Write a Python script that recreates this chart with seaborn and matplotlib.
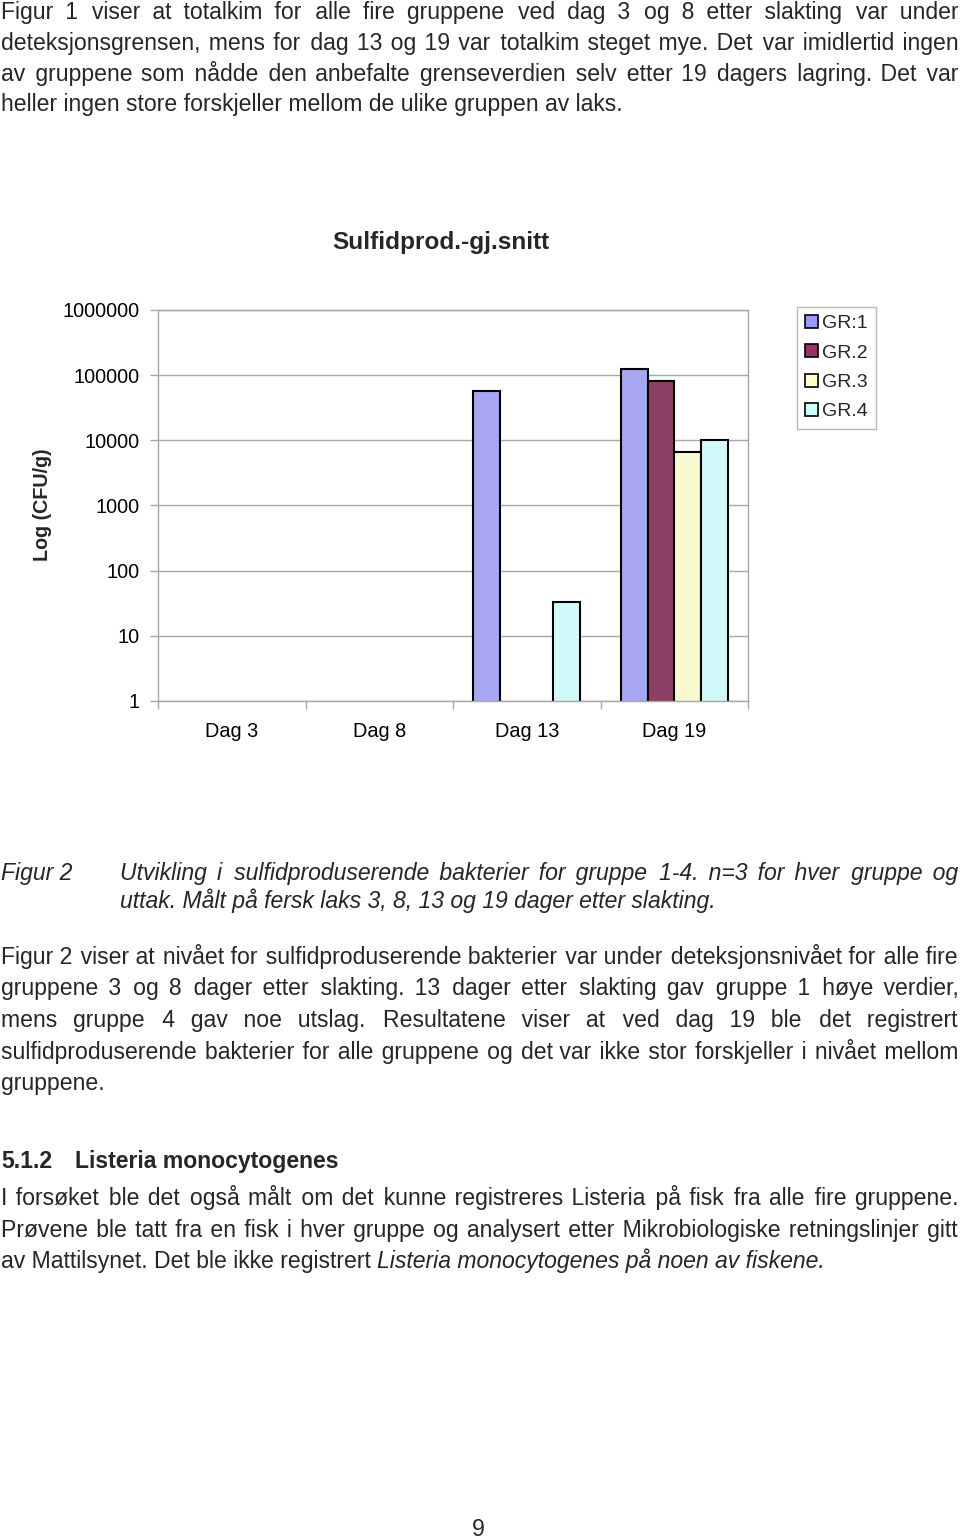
import numpy as np
import pandas as pd
import matplotlib
matplotlib.use("Agg")
import matplotlib.pyplot as plt
import seaborn as sns
from matplotlib.patches import Patch
from matplotlib.ticker import FixedLocator, NullLocator

# ---------------- data ----------------
days = ["Dag 3", "Dag 8", "Dag 13", "Dag 19"]
groups = ["GR:1", "GR.2", "GR.3", "GR.4"]
gr1 = [np.nan, np.nan, 58000, 123000]
gr2 = [np.nan, np.nan, np.nan, 81000]
gr3 = [np.nan, np.nan, np.nan, 6700]
gr4 = [np.nan, np.nan, 33, 10200]
colors = ["#9999FF", "#993366", "#FFFFCC", "#CCFFFF"]
ytick_vals = [1, 10, 100, 1000, 10000, 100000, 1000000]
ytick_labels = ["1", "10", "100", "1000", "10000", "100000", "1000000"]

rows = []
for g, vals in zip(groups, [gr1, gr2, gr3, gr4]):
    for d, v in zip(days, vals):
        rows.append({"day": d, "group": g, "value": v})
df = pd.DataFrame(rows)

# ---------------- figure ----------------
W, H = 960, 1539
sns.set_theme(style="white")
plt.rcParams["font.family"] = ["Liberation Sans", "DejaVu Sans"]
fig = plt.figure(figsize=(W / 100, H / 100), dpi=100)
fig.patch.set_facecolor("white")


def fx(x):
    return x / W


def fy(y):
    return 1 - y / H


ax = fig.add_axes([fx(158), fy(701), 590 / W, 391 / H])
ax.set_yscale("log")
sns.barplot(data=df, x="day", y="value", hue="group", order=days,
            hue_order=groups, palette=colors, width=0.725, gap=0,
            edgecolor="black", linewidth=1.5, errorbar=None, legend=False,
            ax=ax)
ax.set_ylim(1, 1e6)
ax.set_xlim(-0.5, 3.5)
ax.set_xlabel("")
ax.set_ylabel("")

gridc = "#A6A6A6"
TFS = 14.3
ax.yaxis.set_major_locator(FixedLocator(ytick_vals))
ax.set_yticklabels(ytick_labels)
ax.yaxis.set_minor_locator(NullLocator())
ax.grid(axis="y", color=gridc, linewidth=1.0)
ax.set_axisbelow(True)
for s in ax.spines.values():
    s.set_color(gridc)
    s.set_linewidth(1.0)
    s.set_visible(True)
ax.tick_params(axis="y", which="major", length=6, width=1, color=gridc,
               direction="out", pad=7, labelsize=TFS, labelcolor="black",
               left=True)
ax.set_xticks(range(len(days)))
ax.set_xticklabels(days)
ax.tick_params(axis="x", which="major", length=0, pad=15, labelsize=TFS,
               labelcolor="black")
ax.set_xticks([-0.5, 0.5, 1.5, 2.5, 3.5], minor=True)
ax.tick_params(axis="x", which="minor", length=6, width=1, color=gridc,
               direction="out", bottom=True)

fig.text(fx(441), fy(242), "Sulfidprod.-gj.snitt", fontsize=17.6,
         fontweight="bold", ha="center", va="center")
fig.text(fx(43), fy(505), "Log (CFU/g)", fontsize=14.2, fontweight="bold",
         rotation=90, ha="center", va="center")

handles = [Patch(facecolor=c, edgecolor="black", linewidth=1.2) for c in colors]
leg = fig.legend(handles, groups, loc="upper left",
                 bbox_to_anchor=(fx(797), fy(307)), borderaxespad=0,
                 frameon=True, fancybox=False, fontsize=14.0,
                 handlelength=0.64, handleheight=0.64, handletextpad=0.25,
                 labelspacing=0.62, borderpad=0.42)
leg.get_frame().set_edgecolor(gridc)
leg.get_frame().set_linewidth(1.0)

# ---------------- page text ----------------
renderer = fig.canvas.get_renderer()
FS = 16.6
HAIR = "\u200a"


def width_of(s, fs=FS, **kw):
    t = fig.text(0, 0, s, fontsize=fs, **kw)
    w = t.get_window_extent(renderer).width
    t.remove()
    return w


def line(x, y, s, fs=FS, **kw):
    fig.text(fx(x), fy(y), s, fontsize=fs, ha="left", va="baseline", **kw)


def build(words, counts):
    out = words[0]
    for c, w in zip(counts, words[1:]):
        out += " " + HAIR * c + w
    return out


def justified(x0, x1, y, s, **kw):
    words = s.split(" ")
    n = len(words) - 1
    target = x1 - x0
    fs = FS
    while True:
        natural = width_of(s, fs=fs, **kw)
        if natural <= target or fs < 14:
            break
        fs -= 0.1
    hair = width_of("a" + HAIR * 10 + "a", fs=fs, **kw) - width_of("aa", fs=fs, **kw)
    hair /= 10.0
    extra = target - natural
    if hair < 0.3:
        line(x0, y, s, fs=fs, **kw)
        return
    total = int(round(extra / hair))
    counts = [int(round((i + 1) * total / n)) - int(round(i * total / n))
              for i in range(n)]
    # fine correction against the measured width
    for _ in range(4):
        wcur = width_of(build(words, counts), fs=fs, **kw)
        k = int(round((target - wcur) / hair))
        if k == 0:
            break
        step = 1 if k > 0 else -1
        for j in range(abs(k)):
            idx = (j * n) // max(abs(k), 1)
            idx = min(idx, n - 1)
            if counts[idx] + step >= 0:
                counts[idx] += step
    line(x0, y, build(words, counts), fs=fs, **kw)


L, R = 1, 958
para1 = [
    "Figur 1 viser at totalkim for alle fire gruppene ved dag 3 og 8 etter slakting var under",
    "deteksjonsgrensen, mens for dag 13 og 19 var totalkim steget mye. Det var imidlertid ingen",
    "av gruppene som nådde den anbefalte grenseverdien selv etter 19 dagers lagring. Det var",
    "heller ingen store forskjeller mellom de ulike gruppen av laks.",
]
for i, s in enumerate(para1):
    y = 19 + i * 30.8
    if i < len(para1) - 1:
        justified(L, R, y, s)
    else:
        line(L, y, s)

line(L, 880, "Figur 2", style="italic")
justified(120, R, 880,
          "Utvikling i sulfidproduserende bakterier for gruppe 1-4. n=3 for hver gruppe og",
          style="italic")
line(120, 908, "uttak. Målt på fersk laks 3, 8, 13 og 19 dager etter slakting.",
     style="italic")

para2 = [
    "Figur 2 viser at nivået for sulfidproduserende bakterier var under deteksjonsnivået for alle fire",
    "gruppene 3 og 8 dager etter slakting. 13 dager etter slakting gav gruppe 1 høye verdier,",
    "mens gruppe 4 gav noe utslag. Resultatene viser at ved dag 19 ble det registrert",
    "sulfidproduserende bakterier for alle gruppene og det var ikke stor forskjeller i nivået mellom",
    "gruppene.",
]
for i, s in enumerate(para2):
    y = 964 + i * 31.5
    if i < len(para2) - 1:
        justified(L, R, y, s)
    else:
        line(L, y, s)

line(L, 1168, "5.1.2", fontweight="bold")
line(75, 1168, "Listeria monocytogenes", fontweight="bold")

justified(L, R, 1205,
          "I forsøket ble det også målt om det kunne registreres Listeria på fisk fra alle fire gruppene.")
justified(L, R, 1237,
          "Prøvene ble tatt fra en fisk i hver gruppe og analysert etter Mikrobiologiske retningslinjer gitt")
part1 = "av Mattilsynet. Det ble ikke registrert"
line(L, 1268, part1)
sp = width_of("a a") - width_of("aa")
line(L + width_of(part1) + sp, 1268,
     "Listeria monocytogenes på noen av fiskene.", style="italic")

fig.text(fx(478), fy(1536), "9", fontsize=FS, ha="center", va="baseline")

fig.savefig("out.png", dpi=100, facecolor="white")
